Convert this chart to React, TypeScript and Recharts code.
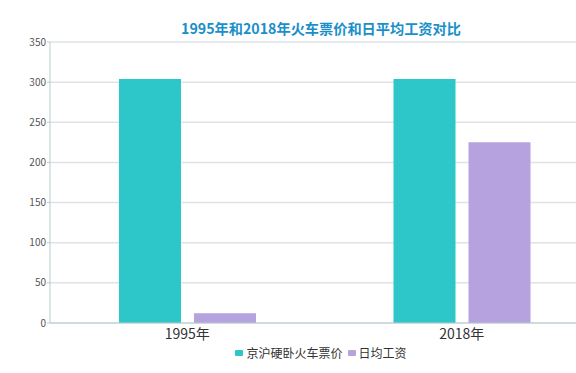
import React from 'react';
import { BarChart, Bar, XAxis, YAxis, CartesianGrid, Legend } from 'recharts';

const categories = ['1995年', '2018年'];
const ticketPrices = [304, 304];
const dailyWages = [12, 225];
const yTicks = [0, 50, 100, 150, 200, 250, 300, 350];

const seriesNames = ['京沪硬卧火车票价', '日均工资'];
const colors = ['#2ec7c9', '#b6a2de'];

const data = categories.map((c, i) => ({
  name: c,
  ticket: ticketPrices[i],
  wage: dailyWages[i],
}));

const FONT = '"Noto Sans CJK SC", "Noto Sans", sans-serif';

const renderLegend = (props: any) => {
  const { payload } = props;
  return (
    <div style={{ display: 'flex', justifyContent: 'center', alignItems: 'center', fontFamily: FONT, fontSize: 12, color: '#333' }}>
      {payload.map((p: any, i: number) => (
        <div key={i} style={{ display: 'flex', alignItems: 'center', marginRight: i === 0 ? 5 : 0 }}>
          <span style={{ display: 'inline-block', width: 8, height: 6, borderRadius: 1, background: p.color, marginRight: 3 }} />
          <span>{p.value}</span>
        </div>
      ))}
    </div>
  );
};

export default function App() {
  return (
    <div style={{ position: 'absolute', left: 0, top: 0, width: 576, height: 373, overflow: 'hidden', background: '#fff' }}>
      <div style={{ position: 'absolute', left: 0, top: 18, width: 642, textAlign: 'center', fontFamily: FONT, fontSize: 14.2, fontWeight: 'bold', color: '#1a8fc9', lineHeight: '20px' }}>
        1995年和2018年火车票价和日平均工资对比
      </div>
      <BarChart
        width={600}
        height={373}
        data={data}
        margin={{ top: 42, right: 1, left: 0, bottom: 0 }}
        barCategoryGap="25%"
        barGap={13}
        style={{ position: 'absolute', left: 0, top: 0 }}
      >
        <CartesianGrid horizontal vertical={false} stroke="#dde4e6" strokeWidth={1.5} />
        <XAxis
          dataKey="name"
          height={22}
          tickLine={false}
          axisLine={{ stroke: '#b9cbd0' }}
          tick={{ fontFamily: FONT, fontSize: 14, fill: '#333' }}
          tickMargin={0}
        />
        <YAxis
          width={50}
          domain={[0, 350]}
          ticks={yTicks}
          interval={0}
          tickSize={3}
          tickMargin={1}
          axisLine={{ stroke: '#b9cbd0' }}
          tickLine={{ stroke: '#b9cbd0' }}
          tick={{ fontFamily: FONT, fontSize: 10, fill: '#555' }}
        />
        <Legend
          verticalAlign="bottom"
          height={28}
          content={renderLegend}
          wrapperStyle={{ left: 0, width: 642, bottom: 1 }}
        />
        <Bar dataKey="ticket" name={seriesNames[0]} fill={colors[0]} barSize={62} isAnimationActive={false} />
        <Bar dataKey="wage" name={seriesNames[1]} fill={colors[1]} barSize={62} isAnimationActive={false} />
      </BarChart>
    </div>
  );
}
